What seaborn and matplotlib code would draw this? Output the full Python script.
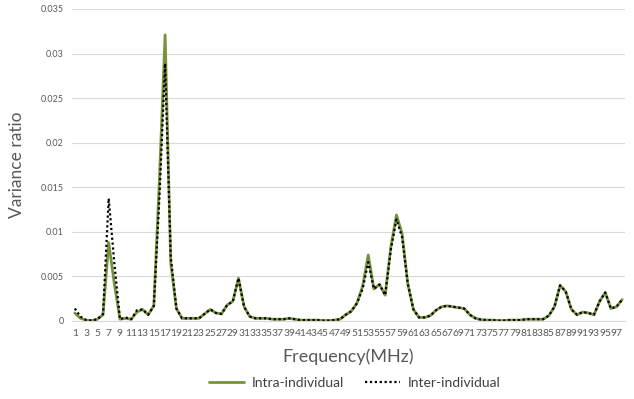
import numpy as np
import pandas as pd
import matplotlib
matplotlib.use("Agg")
import matplotlib.pyplot as plt
import seaborn as sns

freq = list(range(1, 99))
intra = [0.0009, 0.0003, 0.0001, 0.00005, 0.0002, 0.0007, 0.0088, 0.0042, 0.0002, 0.0003,
         0.0002, 0.0010, 0.0013, 0.0007, 0.0017, 0.0160, 0.0321, 0.0065, 0.0014, 0.0003,
         0.0003, 0.0003, 0.0003, 0.0008, 0.0013, 0.0009, 0.0008, 0.0018, 0.0022, 0.0048,
         0.0016, 0.0005, 0.0003, 0.0003, 0.0003, 0.0002, 0.0002, 0.0002, 0.0003, 0.0002,
         0.0001, 0.0001, 0.0001, 0.0001, 0.00005, 0.00005, 0.0001, 0.0002, 0.0007, 0.0011,
         0.0020, 0.0039, 0.0074, 0.0036, 0.0041, 0.0029, 0.0083, 0.0119, 0.0098, 0.0042,
         0.0013, 0.0004, 0.0004, 0.0006, 0.0012, 0.0016, 0.0017, 0.0016, 0.0015, 0.0014,
         0.0007, 0.0003, 0.00015, 0.0001, 0.0001, 0.00005, 0.00005, 0.0001, 0.0001, 0.0001,
         0.0002, 0.0002, 0.0002, 0.0002, 0.0006, 0.0016, 0.0040, 0.0033, 0.0013, 0.0007,
         0.0010, 0.0009, 0.0007, 0.0022, 0.0032, 0.0014, 0.0016, 0.0024]
inter = [0.0014, 0.0005, 0.0001, 0.00005, 0.0002, 0.0008, 0.01375, 0.0065, 0.0002, 0.0004,
         0.0002, 0.0012, 0.0013, 0.0007, 0.0017, 0.0140, 0.0289, 0.0072, 0.0014, 0.0003,
         0.0003, 0.0003, 0.0003, 0.0008, 0.0013, 0.0009, 0.0008, 0.0018, 0.0022, 0.0048,
         0.0016, 0.0005, 0.0003, 0.0003, 0.0003, 0.0002, 0.0002, 0.0002, 0.0003, 0.0002,
         0.0001, 0.0001, 0.0001, 0.0001, 0.00005, 0.00005, 0.0001, 0.0002, 0.0007, 0.0011,
         0.0020, 0.0036, 0.0066, 0.0036, 0.0041, 0.0029, 0.0080, 0.0114, 0.0094, 0.0042,
         0.0013, 0.0004, 0.0004, 0.0006, 0.0012, 0.0016, 0.0017, 0.0016, 0.0015, 0.0014,
         0.0007, 0.0003, 0.00015, 0.0001, 0.0001, 0.00005, 0.00005, 0.0001, 0.0001, 0.0001,
         0.0002, 0.0002, 0.0002, 0.0002, 0.0006, 0.0016, 0.0040, 0.0033, 0.0013, 0.0007,
         0.0010, 0.0009, 0.0007, 0.0022, 0.0032, 0.0014, 0.0016, 0.0024]
y_ticks = [0, 0.005, 0.01, 0.015, 0.02, 0.025, 0.03, 0.035]
y_tick_labels = ["0", "0.005", "0.01", "0.015", "0.02", "0.025", "0.03", "0.035"]
x_tick_labels = [str(v) for v in range(1, 98, 2)]

sns.set_theme(style="white")
plt.rcParams['font.family'] = ['Lato', 'DejaVu Sans']

df = pd.DataFrame({"freq": freq, "intra": intra, "inter": inter})

fig = plt.figure(figsize=(6.34, 3.99), dpi=100)
ax = fig.add_axes([72 / 634, 1 - 321 / 399, (625 - 72) / 634, (321 - 9) / 399])

sns.lineplot(data=df, x="freq", y="intra", ax=ax, color="#76923C", linewidth=2.0,
             label="Intra-individual")
sns.lineplot(data=df, x="freq", y="inter", ax=ax, color="black", linewidth=1.6,
             linestyle=(0, (1, 1.2)), label="Inter-individual")

ax.set_xlim(0.5, 98.5)
ax.set_ylim(0, 0.035)
ax.set_yticks(y_ticks)
ax.set_yticklabels(y_tick_labels, fontsize=6.5, color="#595959")
ax.set_xticks(list(range(1, 98, 2)))
ax.set_xticklabels(x_tick_labels, fontsize=7.4, color="#595959")
ax.tick_params(axis="both", length=0, pad=6)
ax.grid(axis="y", color="#D9D9D9", linewidth=0.8)
for s in ["top", "right", "left"]:
    ax.spines[s].set_visible(False)
ax.spines["bottom"].set_color("#D9D9D9")
ax.spines["bottom"].set_linewidth(0.8)

ax.set_xlabel("Frequency(MHz)", fontsize=13, color="#595959", labelpad=7)
ax.set_ylabel("Variance ratio", fontsize=12.5, color="#595959", labelpad=11)

ax.get_legend().remove()
handles, labels = ax.get_legend_handles_labels()
leg = fig.legend(handles, labels, loc="center", bbox_to_anchor=(355 / 634, 1 - 383 / 399),
                 ncol=2, frameon=False, fontsize=10, handlelength=2.5, columnspacing=1.5,
                 handletextpad=0.6)
for t in leg.get_texts():
    t.set_color("#404040")

fig.savefig("out.png", dpi=100)
